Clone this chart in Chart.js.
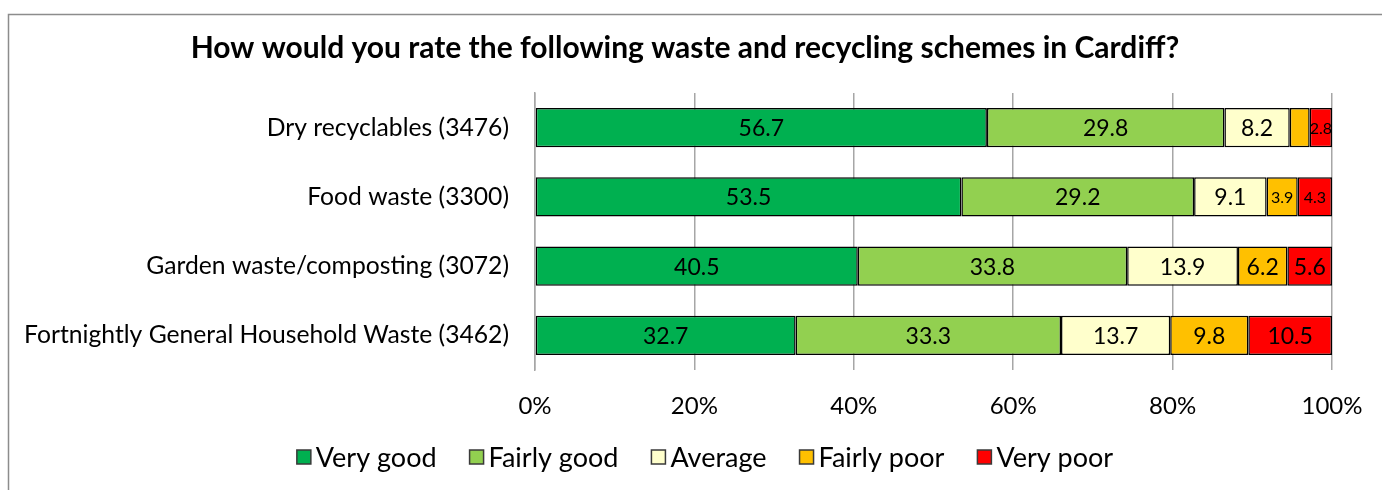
<!DOCTYPE html>
<html><head><meta charset="utf-8">
<script src="https://cdn.jsdelivr.net/npm/chart.js@4"></script>
<style>html,body{margin:0;padding:0;background:#fff;}#wrap{width:1382px;height:490px;}</style>
</head><body><div id="wrap"><canvas id="c" width="1382" height="490"></canvas></div>
<script>
const categories = ["Dry recyclables (3476)", "Food waste (3300)", "Garden waste/composting (3072)", "Fortnightly General Household Waste (3462)"];
const veryGood = [56.7, 53.5, 40.5, 32.7];
const fairlyGood = [29.8, 29.2, 33.8, 33.3];
const average = [8.2, 9.1, 13.9, 13.7];
const fairlyPoor = [2.5, 3.9, 6.2, 9.8];
const veryPoor = [2.8, 4.3, 5.6, 10.5];
const seriesNames = ["Very good", "Fairly good", "Average", "Fairly poor", "Very poor"];
const seriesColors = ["#00B050", "#92D050", "#FFFFCC", "#FFC000", "#FF0000"];
const xTickLabels = ["0%", "20%", "40%", "60%", "80%", "100%"];
const titleText = 'How would you rate the following waste and recycling schemes in Cardiff?';
// which labels are shown (fairly poor for dry recyclables is not labelled)
const showLabel = [[true,true,true,true],[true,true,true,true],[true,true,true,true],[false,true,true,true],[true,true,true,true]];
const smallLabel = [[false,false,false,false],[false,false,false,false],[false,false,false,false],[false,true,false,false],[true,true,false,false]];

const FONT = "Lato, 'Open Sans', sans-serif";
const allData = [veryGood, fairlyGood, average, fairlyPoor, veryPoor];

const framePlugin = {
  id: 'frame',
  beforeDraw(chart) {
    const ctx = chart.ctx;
    ctx.save();
    ctx.fillStyle = '#fff';
    ctx.fillRect(0,0,chart.width,chart.height);
    ctx.strokeStyle = '#8c8c8c';
    ctx.lineWidth = 1.5;
    ctx.strokeRect(8.5, 14.5, 1400, 500);
    // title
    ctx.fillStyle = '#000';
    ctx.font = 'bold 30px ' + FONT;
    ctx.textAlign = 'center';
    ctx.textBaseline = 'middle';
    ctx.fillText(titleText, 685, 48);
    ctx.restore();
  }
};

const labelPlugin = {
  id: 'segLabels',
  afterDatasetsDraw(chart) {
    const ctx = chart.ctx;
    ctx.save();
    ctx.textAlign = 'center';
    ctx.textBaseline = 'middle';
    ctx.fillStyle = '#000';
    chart.data.datasets.forEach((ds, di) => {
      const meta = chart.getDatasetMeta(di);
      meta.data.forEach((bar, i) => {
        if (!showLabel[di][i]) return;
        const cx = (bar.x + bar.base) / 2;
        ctx.font = (smallLabel[di][i] ? '16px ' : '23px ') + FONT;
        ctx.fillText(ds.data[i].toFixed(1), cx, bar.y + 1);
      });
    });
    ctx.restore();
  }
};

const legendPlugin = {
  id: 'customLegend',
  afterDraw(chart) {
    const ctx = chart.ctx;
    ctx.save();
    ctx.font = '27px ' + FONT;
    ctx.textBaseline = 'middle';
    const box = 14, gapText = 5, gapItem = 33, cy = 457, centerX = 705;
    const widths = chart.data.datasets.map(ds => box + gapText + ctx.measureText(ds.label).width);
    const total = widths.reduce((a, b) => a + b, 0) + gapItem * (widths.length - 1);
    let x = centerX - total / 2;
    chart.data.datasets.forEach((ds, i) => {
      ctx.fillStyle = ds.backgroundColor;
      ctx.fillRect(x, cy - box / 2, box, box);
      ctx.strokeStyle = '#3a3a3a';
      ctx.lineWidth = 1.5;
      ctx.strokeRect(x, cy - box / 2, box, box);
      ctx.fillStyle = '#000';
      ctx.textAlign = 'left';
      ctx.fillText(ds.label, x + box + gapText, cy + 1);
      x += widths[i] + gapItem;
    });
    ctx.restore();
  }
};

new Chart(document.getElementById('c'), {
  type: 'bar',
  data: {
    labels: categories,
    datasets: allData.map((d, i) => ({
      label: seriesNames[i],
      data: d,
      backgroundColor: seriesColors[i],
      borderColor: '#000',
      borderWidth: 1.5,
      borderSkipped: false,
      barPercentage: 0.565,
      categoryPercentage: 1.0
    }))
  },
  options: {
    indexAxis: 'y',
    responsive: false,
    animation: false,
    devicePixelRatio: 1,
    layout: { padding: { left: 8, right: 50, top: 93, bottom: 0 } },
    scales: {
      x: {
        stacked: true,
        min: 0, max: 100,
        ticks: {
          stepSize: 20,
          color: '#000',
          font: { family: FONT, size: 24 },
          padding: 22,
          maxRotation: 0,
          callback: (v, idx) => xTickLabels[idx]
        },
        grid: { color: '#a6a6a6', lineWidth: 1.5, drawTicks: false },
        border: { display: false },
        afterFit(scale) { scale.height = 120; scale.paddingRight = 0; scale.paddingLeft = 0; }
      },
      y: {
        stacked: true,
        ticks: { color: '#000', font: { family: FONT, size: 24.7 }, padding: 26 },
        grid: { display: false, drawTicks: false },
        border: { display: true, color: '#a6a6a6', width: 1.5 },
        afterFit(scale) { scale.width = 527; }
      }
    },
    plugins: {
      title: { display: false },
      legend: { display: false },
      tooltip: { enabled: false }
    }
  },
  plugins: [framePlugin, labelPlugin, legendPlugin]
});
</script></body></html>
